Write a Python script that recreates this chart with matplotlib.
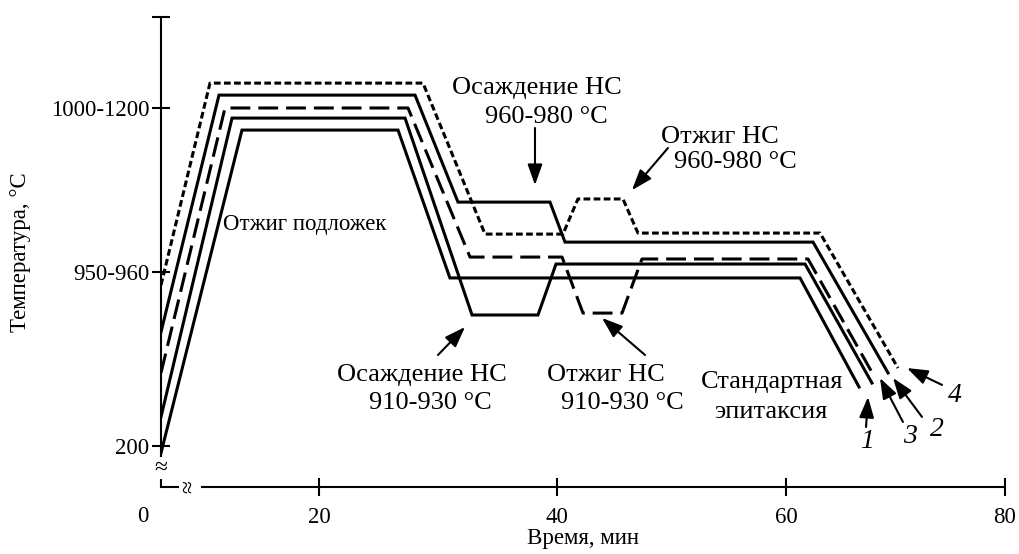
import numpy as np
import matplotlib
matplotlib.use('Agg')
import matplotlib.pyplot as plt

# шрифт как в оригинале (Times-подобный)
plt.rcParams['font.family'] = ['Liberation Serif', 'DejaVu Serif']
plt.rcParams['font.size'] = 16.5

# время, мин (ось нарисована не в масштабе, поэтому шкала кусочно-линейная)
scale_min = [0, 20, 40, 60, 80]
scale_pos = [0, 158, 396, 625, 844]

# температура в условных уровнях: 0 -> "200", 10 -> "950-960", 19.4 -> "1000-1200"
ytick_pos = [0, 10, 19.43]
ytick_lab = ['200', '950-960', '1000-1200']
xtick_pos = [20, 40, 60, 80]

# стандартная эпитаксия
t_std = [0, 10.25, 26.64, 31.0, 61.28, 66.67]
T_std = [-0.40, 18.16, 18.16, 9.66, 9.66, 3.39]
# 1: осаждение НС 910-930
t_1 = [0, 8.99, 27.23, 32.86, 38.40, 39.92, 61.74, 67.85]
T_1 = [1.67, 18.85, 18.85, 7.53, 7.53, 10.46, 10.46, 3.62]
# 3: отжиг НС 910-930
t_3 = [0, 8.10, 27.48, 32.69, 40.44, 42.27, 45.68, 47.42, 62.01, 68.04]
T_3 = [4.20, 19.43, 19.43, 10.86, 10.86, 7.64, 7.64, 10.75, 10.75, 4.02]
# 2: осаждение НС 960-980
t_2 = [0, 7.34, 28.07, 31.68, 39.41, 40.70, 62.47, 69.32]
T_2 = [6.55, 20.17, 20.17, 14.02, 14.02, 11.72, 11.72, 4.20]
# 4: отжиг НС 960-980
t_4 = [0, 6.20, 28.74, 33.95, 40.52, 41.83, 45.76, 47.07, 63.11, 70.23]
T_4 = [9.25, 20.86, 20.86, 12.18, 12.18, 14.20, 14.20, 12.24, 12.24, 4.48]


def fwd(x):
    return np.interp(x, scale_min, scale_pos)


def inv(p):
    return np.interp(p, scale_pos, scale_min)


fig = plt.figure(figsize=(10.19, 5.54), dpi=100)
ax = fig.add_axes([161 / 1019, 67.3 / 554, 844 / 1019, 469.7 / 554])
ax.set_xscale('function', functions=(fwd, inv))

lw = 2.2
ax.plot(t_std, T_std, color='black', lw=lw, solid_joinstyle='miter')
ax.plot(t_1, T_1, color='black', lw=lw, solid_joinstyle='miter')
ax.plot(t_3, T_3, color='black', lw=lw, linestyle=(0, (6.5, 2.6)))
ax.plot(t_2, T_2, color='black', lw=lw, solid_joinstyle='miter')
ax.plot(t_4, T_4, color='black', lw=lw, linestyle=(0, (2.2, 1.1)))

ax.set_xlim(0, 80)
ax.set_ylim(-2.34, 24.66)
ax.spines['top'].set_visible(False)
ax.spines['right'].set_visible(False)
ax.spines['left'].set_linewidth(1.5)
ax.spines['bottom'].set_linewidth(1.5)

ax.set_xticks(xtick_pos)
ax.set_xticklabels([str(v) for v in xtick_pos])
ax.set_xticks([], minor=True)
ax.set_yticks(ytick_pos)
ax.set_yticklabels(ytick_lab)
ax.set_yticks([24.66], minor=True)
ax.tick_params(axis='both', which='both', direction='inout', length=13, width=1.5)
ax.tick_params(axis='x', pad=8)
ax.tick_params(axis='y', pad=2)

# "0" в углу осей
ax.annotate('0', xy=(0, -2.34), xytext=(-18, -30), textcoords='offset pixels',
            ha='center', va='center', annotation_clip=False)

# разрывы осей
ax.text(0, -1.26, '≈', ha='center', va='center', fontsize=17,
        bbox=dict(facecolor='white', edgecolor='none', pad=0.3))
ax.text(3.67, -2.34, '≈', ha='center', va='center', fontsize=17, rotation=90,
        bbox=dict(facecolor='white', edgecolor='none', pad=0.3), clip_on=False)

ax.set_xlabel('Время, мин', labelpad=0)
ax.set_ylabel('Температура, °C', labelpad=14)

# подписи
fs = 19
ax.text(18.2, 12.76, 'Отжиг подложек', ha='center', va='center', fontsize=16.5)
ax.text(38.32, 20.57, 'Осаждение НС', ha='center', va='center', fontsize=fs)
ax.text(39.08, 18.91, '960-980 °C', ha='center', va='center', fontsize=fs)
ax.text(54.24, 17.76, 'Отжиг НС', ha='center', va='center', fontsize=fs)
ax.text(55.55, 16.32, '960-980 °C', ha='center', va='center', fontsize=fs)
ax.text(28.66, 4.08, 'Осаждение НС', ha='center', va='center', fontsize=fs)
ax.text(29.33, 2.47, '910-930 °C', ha='center', va='center', fontsize=fs)
ax.text(44.28, 4.08, 'Отжиг НС', ha='center', va='center', fontsize=fs)
ax.text(45.68, 2.47, '910-930 °C', ha='center', va='center', fontsize=fs)
ax.text(58.78, 3.68, 'Стандартная', ha='center', va='center', fontsize=fs)
ax.text(58.69, 1.95, 'эпитаксия', ha='center', va='center', fontsize=fs)

for lab, x, y in [('1', 67.40, 0.23), ('3', 71.32, 0.52), ('2', 73.79, 0.92), ('4', 75.43, 2.93)]:
    ax.text(x, y, lab, ha='center', va='center', fontsize=20, style='italic')

arrows = [
    ((38.15, 18.28), (38.15, 15.0)),
    ((49.69, 17.13), (46.55, 14.71)),
    ((30.0, 5.23), (32.27, 6.84)),
    ((47.69, 5.23), (43.93, 7.36)),
    ((67.31, 1.09), (67.49, 2.82)),
    ((70.68, 1.38), (68.58, 3.91)),
    ((72.42, 1.67), (69.77, 3.91)),
    ((74.25, 3.51), (71.05, 4.48)),
]
for tail, head in arrows:
    ax.annotate('', xy=head, xytext=tail,
                arrowprops=dict(arrowstyle='-|>,head_length=0.7,head_width=0.25',
                                color='black', lw=1.5,
                                mutation_scale=18, shrinkA=0, shrinkB=0))

plt.savefig('out.png', dpi=100)
